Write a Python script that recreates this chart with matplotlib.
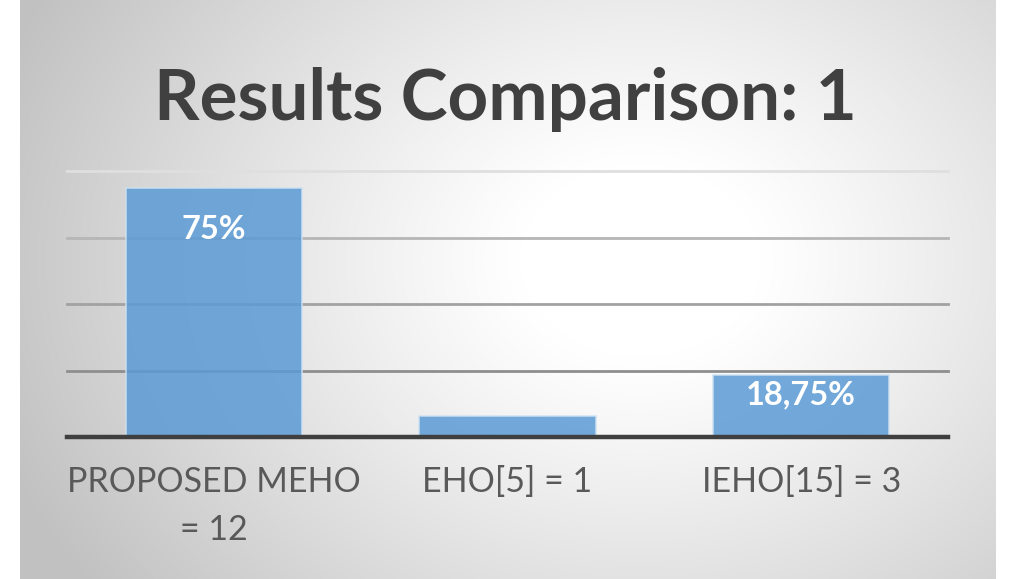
import numpy as np
import matplotlib
matplotlib.use("Agg")
import matplotlib.pyplot as plt

categories = ["PROPOSED MEHO\n= 12", "EHO[5] = 1", "IEHO[15] = 3"]
values = [75, 6.25, 18.75]
value_labels = ["75%", "", "18,75%"]
yticks = [0, 20, 40, 60, 80]
title = "Results Comparison: 1"

W, H, DPI = 1011, 579, 100
plt.rcParams['font.family'] = ['Lato', 'DejaVu Sans']
fig = plt.figure(figsize=(W / DPI, H / DPI), dpi=DPI)
fig.patch.set_facecolor('white')

# radial gradient background panel
bx0, bx1 = 20, 996
bg = fig.add_axes([bx0 / W, 0, (bx1 - bx0) / W, 1])
yy, xx = np.mgrid[0:H, bx0:bx1]
cx, cy = 640, 260
r = np.hypot((xx - cx) * 1.0, (yy - cy) * 1.25)
t = np.clip((r - 120) / 560, 0, 1)
val = 1 - 0.24 * t ** 1.1
bg.imshow(np.dstack([val, val, val]), aspect='auto', extent=[0, 1, 0, 1])
bg.set_axis_off()

ax = fig.add_axes([67 / W, 1 - 437 / H, (948 - 67) / W, (437 - 171) / H])
ax.patch.set_alpha(0)
ax.set_xlim(-0.5, 2.5)
ax.set_ylim(0, 80)

grid_colors = {20: '#8e8e8e', 40: '#a2a2a2', 60: '#b6b6b6', 80: '#dfdfdf'}
for yv in yticks[1:]:
    ax.axhline(yv, color=grid_colors[yv], lw=2.0, zorder=1, clip_on=False)

x = np.arange(len(categories))
bars = ax.bar(x, values, width=0.6, color='#5b9bd5', alpha=0.85,
              edgecolor='#cfe2f3', linewidth=1.2, zorder=2)
ax.axhline(0, color='#3f3f3f', lw=3.2, zorder=3, clip_on=False)

offsets = [-27, 0, -6]
for b, lab, off in zip(bars, value_labels, offsets):
    if lab:
        ax.annotate(lab, (b.get_x() + b.get_width() / 2, b.get_height()),
                    xytext=(0, off), textcoords='offset pixels',
                    ha='center', va='top', color='white',
                    fontsize=23.5, fontweight='bold', zorder=4)

for s in ax.spines.values():
    s.set_visible(False)
ax.set_yticks([])
ax.set_xticks(x)
ax.set_xticklabels(categories, fontsize=24.5, color='#595959', linespacing=1.6)
ax.tick_params(axis='x', length=0, pad=21)

fig.text(0.5, 1 - 100 / H, title, ha='center', va='center',
         fontsize=51, fontweight='bold', color='#404040')

fig.savefig('out.png', dpi=DPI)
